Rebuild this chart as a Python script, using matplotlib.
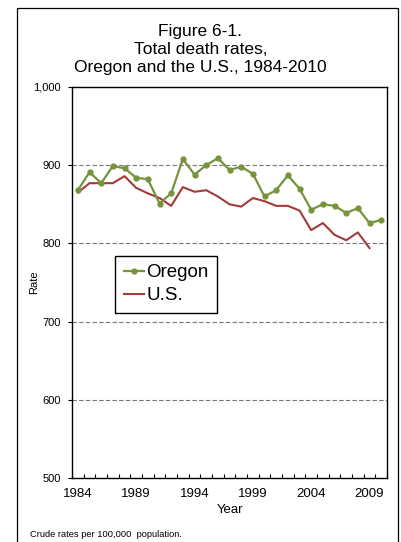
import matplotlib
matplotlib.use('Agg')
import matplotlib.pyplot as plt
from matplotlib.patches import Rectangle
from matplotlib.ticker import FuncFormatter
import numpy as np

plt.rcParams['font.family'] = ['Liberation Sans', 'DejaVu Sans']

years = list(range(1984, 2011))
oregon = [868, 891, 877, 899, 896, 884, 882, 851, 864, 908,
          888, 900, 909, 894, 898, 889, 860, 868, 887, 870,
          843, 850, 848, 839, 845, 826, 830]
us_years = list(range(1984, 2010))
us = [865, 877, 877, 877, 886, 871, 864, 858, 848, 872,
      866, 868, 860, 850, 847, 858, 854, 848, 848, 842,
      817, 826, 811, 804, 814, 794]
label_years = [1984, 1989, 1994, 1999, 2004, 2009]
y_ticks = [500, 600, 700, 800, 900, 1000]

fig = plt.figure(figsize=(4.01, 5.42), dpi=100)
ax = fig.add_axes([0.1796, 0.1181, 0.7855, 0.7214])

for v in y_ticks[1:-1]:
    ax.axhline(v, color='#777777', lw=0.8, ls=(0, (4, 2)), zorder=1)

ax.plot(years, oregon, color='#77933C', lw=1.6, marker='o', ms=3.5,
        label='Oregon', zorder=3)
ax.plot(us_years, us, color='#A33B38', lw=1.5, label='U.S.', zorder=2)

ax.set_xlim(1983.5, 2010.5)
ax.set_ylim(500, 1000)
ax.set_yticks(y_ticks)
ax.yaxis.set_major_formatter(FuncFormatter(lambda v, p: f'{int(v):,}'))
ax.tick_params(axis='y', labelsize=8, length=3, width=0.8, pad=5)

ax.set_xticks(label_years)
ax.set_xticks(np.arange(1983.5, 2011, 1), minor=True)
ax.tick_params(axis='x', which='major', length=0, labelsize=9.5, pad=7)
ax.tick_params(axis='x', which='minor', direction='in', length=3, width=0.8)

for s in ax.spines.values():
    s.set_linewidth(1.0)
    s.set_color('black')

ax.set_xlabel('Year', fontsize=9.5, labelpad=3)
ax.set_ylabel('Rate', fontsize=8)
ax.yaxis.set_label_coords(-0.106, 0.5)

ax.legend(loc='upper left', bbox_to_anchor=(0.137, 0.568), fontsize=13.5,
          frameon=True, fancybox=False, edgecolor='black', framealpha=1,
          handlelength=1.1, handletextpad=0.1, borderpad=0.45,
          labelspacing=0.3, borderaxespad=0)

fig.text(0.5, 0.908, 'Figure 6-1.\nTotal death rates,\nOregon and the U.S., 1984-2010',
         ha='center', va='center', fontsize=12.5, linespacing=1.25)
fig.text(0.075, 0.006, 'Crude rates per 100,000  population.', fontsize=6.7,
         ha='left', va='bottom')

fig.patches.append(Rectangle((0.0424, -0.02), 0.9506, 1.005, transform=fig.transFigure,
                             fill=False, edgecolor='black', lw=0.9))

fig.savefig('out.png', dpi=100)
